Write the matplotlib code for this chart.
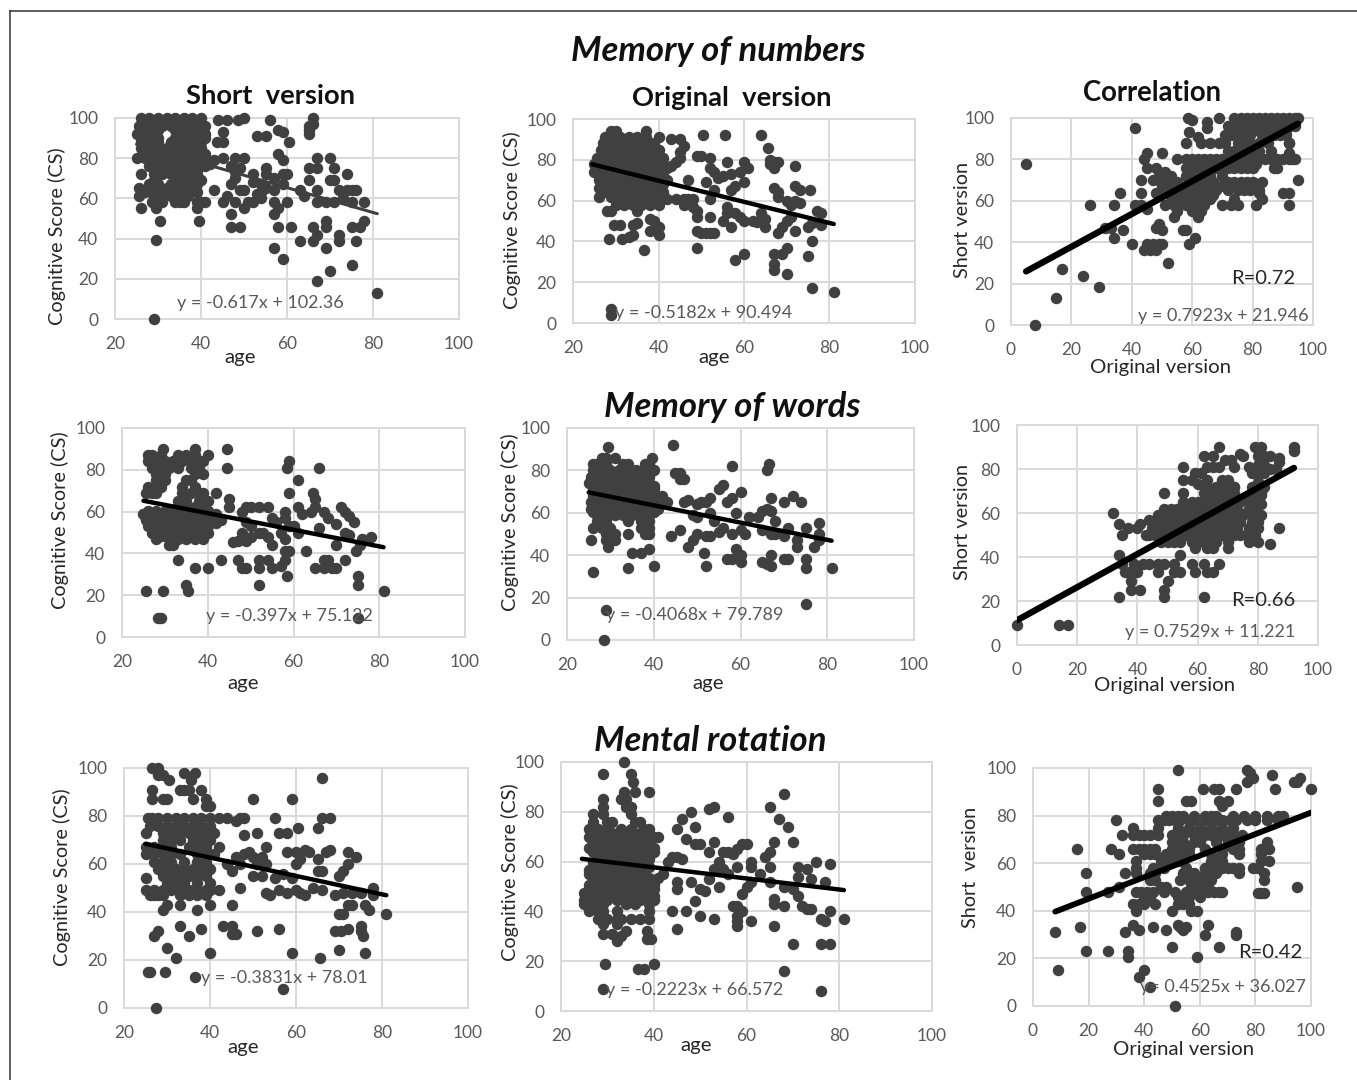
# Cognitive scores: short vs original version, scatter panels with trend lines
import numpy as np
import matplotlib
matplotlib.use('Agg')
import matplotlib.pyplot as plt
from matplotlib.lines import Line2D

plt.rcParams['font.family'] = ['Lato', 'DejaVu Sans']

W = 1357
H = 1080
dot_color = '#404040'
grid_color = '#d9d9d9'
tick_color = '#595959'
label_color = '#262626'

# data: rows are (score, [x values]), extras are single (x, score) points
rows_1 = [(100, [26, 28, 30, 32, 34, 36, 38, 40]), (98, [27, 29, 31, 33, 35, 37, 39]),
          (96, [25.5, 27, 29, 31, 33, 35, 37, 39, 41]), (94, [26, 28, 30, 34, 36, 38, 40]),
          (92, [25, 27, 29, 35, 37, 39, 41]), (90, [26, 28, 30, 34, 36, 38, 40]),
          (88, [26, 28, 30, 33, 35, 37, 39, 40]), (85, [26, 28, 30, 32, 34, 36, 38, 40]),
          (82, [27, 29, 31, 33, 35, 37, 39, 41]), (80, [25, 27, 29, 31, 33, 35, 37, 39, 41]),
          (78, [29, 31, 33, 35, 37, 39]), (76, [28, 30, 32, 34, 36, 39, 41]), (74, [29, 31, 35, 37, 39]),
          (72, [26, 29, 31, 33, 35, 37, 39]), (69, [29, 34, 36, 38, 40]), (67, [28, 30, 33, 35, 37, 39]),
          (65, [25.5, 28, 30, 32, 34, 36, 38]), (63, [27, 31, 33, 35, 37, 39]),
          (61, [25.5, 29, 31, 33, 35, 37]), (58, [28.5, 31, 34, 35, 36, 39, 40, 41])]
extra_1 = [(26, 55), (29.5, 55), (30.5, 49), (29.5, 39.5), (39.5, 49), (39, 55), (29, 0), (41, 90), (44, 99),
           (46, 99), (48.5, 99), (50, 100), (56, 99), (58, 94), (59, 93), (45, 93), (45, 88), (43.7, 88), (53, 91),
           (55, 91), (60.5, 88), (65, 96), (66, 97), (66, 100), (65, 92), (65, 94), (42, 77), (43, 79), (45, 80),
           (48, 80), (50, 80), (47, 76), (48, 73), (48, 70), (49, 75), (52, 72), (52, 68), (55, 75), (55, 72),
           (57, 70), (59, 72), (60, 72), (58, 82), (59, 79), (65, 75), (67, 80), (67, 75), (70, 80), (71, 75),
           (74, 72), (65, 69), (70, 69), (71, 69), (43, 64), (45, 58), (46, 61), (47, 67), (49, 64), (50, 64),
           (48, 58), (50, 55), (52, 58), (51, 58), (54, 67), (54, 63), (54, 60), (55, 65), (53, 62), (57, 64),
           (57, 58), (59, 67), (60, 58), (63, 64), (64, 61), (67, 64), (67, 58), (69, 58), (71, 58), (72, 64),
           (73, 60), (74, 64), (75, 64), (76, 64), (75, 58), (78, 58), (47, 52), (47, 46), (49, 46), (58, 55),
           (57, 52), (58, 46), (61, 46), (66, 46), (67, 42), (69, 49), (69, 46), (72, 42), (72, 39), (75, 46),
           (77, 46), (78, 49), (76, 39), (57, 35.5), (59, 30), (63, 39), (66, 39), (69, 35.5), (70, 24), (67, 19),
           (75, 27), (81, 13)]

rows_2 = [(94, [29, 30, 37]), (91, [27.5, 29, 31, 33, 35, 37, 40]), (88, [27, 29, 31, 33, 35, 37, 39]),
          (85, [26.5, 28, 30, 32, 34, 36, 38, 40]), (83, [27, 29, 31, 33, 35, 37, 39]),
          (81, [25.5, 27, 29, 31, 33, 35, 37, 39, 41]), (78, [25, 27, 29, 31, 33, 35, 37, 39, 41]),
          (76, [26, 28, 30, 32, 34, 36, 38, 40, 42]), (74, [25, 27, 29, 31, 33, 35, 37, 39, 41]),
          (72, [26, 28, 30, 32, 34, 36, 38, 40]), (70, [26, 28, 30, 32, 34, 36, 38, 40]),
          (68, [27, 29, 31, 33, 35, 37, 39, 41]), (66, [26, 28, 30, 32, 34, 36, 38, 40]),
          (64, [27, 29, 33, 35, 39, 41]), (62, [26, 29, 31, 33, 35, 37, 39, 41]),
          (60, [30, 32, 34, 38, 40]), (58, [30, 32, 34, 36, 38, 40]), (55, [28, 29, 35])]
extra_2 = [(29.5, 48), (31, 48), (28.5, 41), (31.5, 41), (33, 42), (34, 43), (34, 48), (35, 49), (38, 51), (39, 50),
           (40, 47), (38, 45), (40, 43), (36.5, 36), (29, 7), (29, 4), (43, 90), (45, 90), (46, 87), (45, 84),
           (45, 81), (44, 79), (43, 77), (42, 70), (42, 61), (44, 61), (46, 61), (47, 61), (48, 61), (46, 58),
           (48, 57), (49, 55), (49, 52), (47, 70), (49, 82), (50, 82), (51, 69), (50.5, 92), (55.5, 92), (52, 81),
           (52, 76), (53, 74), (54, 71), (55, 72), (57, 73), (56, 79), (59, 74), (60, 79), (61, 76), (60, 69),
           (58, 67), (57, 65), (53, 65), (52, 61), (56, 57), (52, 52), (55, 50), (56, 54), (58, 54), (57, 47),
           (59, 52), (60, 50), (62, 50), (63, 49.5), (65, 51), (65, 47), (64, 54), (49, 45), (50, 44), (51, 44),
           (52, 44), (53, 44), (49, 37), (58, 31), (60, 34), (64, 92), (65.5, 86), (66, 80), (67, 79), (66, 78),
           (67, 76), (68, 79), (72, 77), (67, 66), (68, 64), (68, 62), (70, 60), (71, 58), (72, 67), (73, 65),
           (72, 60), (73, 59), (75.5, 65), (71, 52), (70, 50), (69, 47), (68, 44), (72, 45), (75, 47), (76, 40),
           (75, 33), (67, 34), (69, 34), (70, 37), (67, 29), (67, 26), (70, 24), (76, 17), (81, 15), (77, 55),
           (78, 54), (78, 48), (76, 49)]

rows_3 = [(100, [74, 76, 78, 80, 82, 84, 86, 88, 90, 92, 94, 95]), (98, [75, 77, 79, 85, 87, 89, 91, 93]),
          (96, [72, 74, 76, 78, 82, 84, 86, 88, 90, 92, 94]), (94, [73, 75, 77, 81, 83, 87, 89, 91]),
          (92, [71, 73, 76, 79, 83, 85, 87, 89, 91]), (88, [69, 71, 75, 77, 79, 82, 85, 92]),
          (84, [72, 74, 76, 78, 80, 82, 86]),
          (80, [60, 62, 64, 66, 68, 70, 72, 74, 76, 78, 80, 82, 84, 86, 88, 90, 92, 94]),
          (78, [59, 61, 63, 65, 67, 71, 73, 75, 77, 79, 81]),
          (76, [58, 60, 62, 64, 68, 70, 72, 74, 76, 78, 80, 88]), (72, [58, 60, 62, 64, 66, 70]),
          (69, [59, 61, 63, 65, 67, 72, 74, 76, 78, 80, 83]), (67, [58, 60, 62, 64, 66, 68, 70]),
          (65, [58, 60, 62, 64, 66, 68, 72, 75, 77, 79, 82]), (63, [59, 61, 63, 65, 67]),
          (61, [58, 60, 62, 64, 66, 74]), (58, [58, 60, 62, 64, 70, 73, 75, 81])]
extra_3 = [(5, 78), (8, 0), (15, 13), (17, 27), (24, 23.5), (29, 18.5), (26, 58), (34, 58), (36, 64), (41, 95), (31, 47),
           (33, 47), (34, 42), (37, 46), (40, 39), (41, 58), (43, 64), (43, 70), (44, 80), (45, 83), (45, 76), (43, 58),
           (45, 56), (44, 36), (45, 39), (46, 36), (47, 39), (48, 36), (49, 39), (50, 39), (52, 30), (48, 47), (49, 49),
           (50, 46), (48, 64), (50, 64), (47, 70), (48, 76), (50, 72), (49, 70), (50, 83), (52, 70), (53, 67), (51, 58),
           (54, 52), (55, 55), (53, 62), (55, 58), (55, 80), (57, 46), (58, 46), (59, 39), (61, 42), (58, 80), (59, 76),
           (58, 88), (59, 93), (58.5, 100), (60, 99), (62, 91), (63, 88), (66, 88), (65, 95), (65, 98), (69, 100),
           (82, 64), (83, 61), (90, 64), (92, 64), (92, 58), (95, 70), (87, 76), (92, 83), (92, 88), (93, 80), (60, 55),
           (62, 52), (63, 55), (49, 74), (51, 74), (53, 72), (55, 69), (56, 65), (50, 67), (52, 64), (55, 62), (54, 58)]

rows_4 = [(90, [29.5, 37]), (87, [26, 27, 29, 33, 35, 37, 40]), (84, [26, 28, 30, 32, 34, 36, 38, 39]),
          (81, [27, 29, 31, 33, 36, 38]), (78, [28, 30, 37, 39]), (75, [28, 30, 35, 36]), (72, [26, 28, 29, 34, 37]),
          (69, [25.5, 27, 28, 34, 36, 38, 39, 42]), (65, [33, 35, 38, 40]), (62, [33, 35, 37, 39]),
          (60.5, [26, 28, 30, 32, 34, 36, 38, 40]), (59, [25, 27, 29, 31, 33, 35, 37, 39, 41, 42]),
          (57.5, [26, 28, 30, 32, 34, 36, 38, 40]), (56, [25.5, 27, 29, 31, 33, 35, 37, 39, 41, 43]),
          (54.5, [27, 29, 31, 33, 35, 37, 39, 42]), (53, [26, 28, 30, 32, 34, 36, 38, 40]),
          (51.5, [29, 31, 33, 35, 37, 39]), (50, [27, 30, 32, 34, 36, 38, 40]), (48.5, [29, 31, 33, 35, 37, 39]),
          (47, [28, 31, 33, 35, 37, 39]), (44, [31, 32])]
extra_4 = [(44.5, 90), (44.5, 81), (45, 66), (45, 62), (46, 45.5), (47, 46), (48, 50), (49, 46), (50, 48), (48, 60),
           (49, 62), (50, 62), (52, 62), (54, 62), (49, 55), (50, 53), (52, 50), (53, 50), (54, 48), (55, 44), (55, 57),
           (56, 55), (57, 50), (58, 47), (58, 57), (58, 60), (59, 84), (58.5, 81), (59, 69), (61, 75), (61, 62), (62, 59),
           (64, 60), (64.5, 69), (65, 66), (65, 62), (66, 81), (66, 52), (67, 60), (68, 57), (70, 54), (71, 62), (72, 60),
           (73, 58), (74, 55), (72, 50), (73, 49), (61, 50), (60, 53), (59, 53), (76, 47), (78, 48), (75.5, 44), (74.5, 41),
           (70, 44), (58, 41), (59, 41), (63, 41), (58, 37), (57, 34), (55, 33), (54, 37), (52, 37), (52, 33), (47, 37),
           (48, 33), (49, 33), (43, 37), (33, 37), (37, 33), (40, 33), (35, 25), (35.5, 22), (25.5, 22), (29.5, 22),
           (28.5, 9), (29, 9), (75, 9), (52, 25), (58.5, 29), (75, 29), (75, 25), (81, 22), (65, 33), (67, 33), (68, 37),
           (69, 33), (70, 33), (72, 37), (67, 37)]

rows_5 = [(91, [29.5]), (86, [28, 29, 31, 39.5]), (83, [26, 27, 28, 29, 33, 34, 38, 39]),
          (80, [26, 28, 30, 32, 34, 36, 38, 40]), (78.5, [27, 29, 31, 33, 35, 37, 39]),
          (77, [25.5, 27, 29, 31, 33, 35, 37, 39]), (75.5, [26, 28, 30, 32, 34, 36, 38]),
          (74, [25, 27, 29, 31, 33, 35, 37, 39]), (72.5, [26, 28, 30, 32, 34, 36, 38, 40]),
          (71, [26, 28, 30, 32, 34, 36, 38, 40]), (69.5, [27, 29, 31, 33, 35, 37, 39]),
          (68, [26, 28, 30, 32, 34, 36, 38, 40, 42]), (66.5, [27, 29, 31, 33, 35, 37, 39]),
          (65, [25.5, 27, 29, 31, 33, 35, 37, 39, 41, 43]), (63.5, [26, 28, 30, 32, 34, 36, 38, 40]),
          (62, [25.5, 27, 29, 31, 33, 35, 37, 39, 41]), (60.5, [26, 28, 30, 34, 38, 40]),
          (59, [27, 29, 31, 33, 35, 37, 39]), (56, [27, 29, 34, 37, 39]),
          (53, [26, 28, 30, 37, 38, 39]), (50, [29, 31, 34, 38, 39]), (47, [25.5, 29, 31]), (44, [29.5])]
extra_5 = [(35, 41), (37, 41), (39, 43), (40, 35), (34, 34), (26, 32), (29, 14), (28.5, 0), (44.5, 92), (45, 79), (46, 79),
           (46, 76), (47, 76), (44, 49), (46, 52), (48, 44), (49, 47), (50, 50), (52, 49), (53, 49), (55, 51), (56, 53),
           (54, 56), (53, 60), (47, 65), (48, 66), (50, 64), (52, 65), (53, 67), (55, 71), (56, 73), (57, 65), (58, 67),
           (60, 70), (58, 82), (59, 60), (49, 59), (50, 58), (51, 65), (58, 50), (60, 52), (61, 50), (62, 58), (64, 58),
           (65, 61), (66, 62), (67, 61), (66, 80), (66.5, 83), (67, 67), (70, 65), (72, 68), (74, 65), (65, 52), (67, 50),
           (68, 56), (68, 50), (70, 49), (71, 53), (73, 47), (73, 44), (75, 53), (77, 44), (78, 47), (78, 50), (78, 55),
           (51.5, 41), (52, 35), (57, 38), (58, 38), (59, 43), (60, 40), (60, 37), (65, 37), (66, 36), (67, 35), (67, 40),
           (70, 38), (71, 38), (75, 38), (75, 34), (75, 17), (81, 34)]

rows_6 = [(72, [63, 66, 68, 70, 72, 78, 80]), (69, [49, 55, 62, 64, 66, 68, 70, 72, 78, 81]),
          (65, [55, 58, 60, 62, 64, 67, 69, 71, 74, 77, 79]),
          (62, [49, 51, 53, 56, 58, 60, 62, 64, 66, 68, 70, 72, 77, 79]),
          (59, [47, 49, 51, 53, 55, 57, 59, 61, 63, 65, 67, 69, 71, 73, 75, 78, 81]),
          (56, [46, 48, 50, 52, 54, 56, 58, 60, 62, 64, 66, 68, 70, 72, 74, 78, 80]),
          (53, [45, 47, 49, 51, 53, 55, 57, 59, 61, 63, 65, 67, 69, 71, 73, 77, 80, 87]),
          (50, [44, 46, 48, 50, 52, 54, 56, 58, 60, 62, 64, 66, 68, 70, 72, 74, 76, 79]),
          (47, [48, 50, 52, 54, 58, 60, 62, 64, 66, 70, 77, 80]), (44, [59, 63, 65, 70])]
extra_6 = [(0, 9), (14, 9), (17, 9), (32, 60), (34, 55), (35, 50), (37, 53), (40, 53), (41, 55), (43, 50), (44, 57), (34, 41),
           (35, 37), (36, 33), (37, 33), (38, 29), (38, 25), (41, 25), (34, 22), (39, 37), (40, 33), (42, 37), (44, 37),
           (47, 33), (47, 37), (49, 25), (49, 22), (50, 29), (49, 37), (52, 33), (52, 37), (54, 33), (54, 41), (58, 37),
           (59, 33), (62, 37), (63, 33), (65, 33), (67, 37), (62, 22), (84, 46), (74, 60), (55, 81), (55, 75), (58, 75),
           (59, 78), (61, 78), (60, 73), (63, 81), (62, 86), (65, 86), (67, 90), (65, 81), (67, 81), (63, 75), (67, 72),
           (68, 75), (70, 75), (66, 69), (72, 72), (69, 84), (71, 84), (72, 81), (74, 87), (75, 86), (77, 81), (78, 78),
           (79, 90), (81, 90), (80, 86), (82, 86), (84, 86), (80, 82), (82, 82), (84, 80), (86, 80), (87, 85), (87, 83),
           (80, 78), (82, 78), (80, 74), (82, 72), (79, 70), (81, 68), (77, 67), (79, 65), (81, 64), (92, 90), (92, 88)]

rows_7 = [(100, [26.5, 28]), (97, [28, 29]), (98, [34, 36.5]), (95, [30.5, 35.5]), (91, [26.5, 33, 34, 35, 38]),
          (87, [26.5, 29, 30, 36, 39]), (84, [39, 40]), (79, [25.5, 26.5, 28, 30, 32, 34, 36, 38, 40]),
          (76, [26, 28, 30, 32, 34, 36, 38, 40]), (73, [25, 29, 31, 33, 35, 37, 39, 41]), (70, [29, 31, 33, 36, 38, 40]),
          (67, [25, 27, 29, 31, 35, 37, 39, 42]), (64, [25, 27, 29, 31, 33, 37, 39, 41]), (61, [27, 29, 31, 34, 37, 39]),
          (58, [28, 30, 32, 34, 36, 38, 40]), (55, [29, 31, 33, 35, 37, 39]), (54, [25]), (52, [30, 32, 34, 37, 40]),
          (49, [25, 27, 29, 31, 33, 35, 37, 39, 40]), (47, [26, 27, 28, 29, 33, 35, 37, 39])]
extra_7 = [(30, 43), (29, 41), (33, 43), (37, 41), (40, 43), (42, 49), (45, 43), (42, 79), (44, 79), (46, 78), (47, 79),
           (48, 79), (48, 72), (51, 73), (55, 79), (56, 73), (58, 73), (50, 87), (59, 87), (60.5, 75), (65, 75), (66, 79),
           (68, 79), (66, 96), (58, 65), (60, 65), (62, 66), (63, 65), (61, 62), (60, 60), (65, 62), (67, 65), (68, 66),
           (44, 60), (45, 57), (46, 63), (47, 60), (48, 64), (49, 65), (50, 63), (52, 63), (53, 67), (51, 60), (53, 60),
           (50, 55), (52, 55), (54, 47), (55, 54), (57, 56), (59, 54), (65, 57), (66, 57), (47, 50), (53, 48), (56, 49),
           (58, 48), (60, 49), (61, 48), (62, 47), (64, 50), (66, 49), (69, 47), (70, 55), (71, 57), (72, 60), (72, 65),
           (74, 63), (71, 48), (73, 48), (75, 48), (78, 50), (78, 47), (72, 43), (73, 43), (76, 43), (77, 41), (70, 39),
           (71, 39), (81, 39), (69, 32), (70.5, 32), (72, 33), (75, 34), (75, 32), (75.5, 30), (56, 33), (51, 32), (43, 34),
           (45, 34), (45, 31), (46, 31), (38, 33), (33, 34), (35, 30), (27, 30), (28, 32), (30, 25), (32, 21), (40, 23),
           (59, 23), (65.5, 21), (70, 24), (76, 23), (25.5, 15), (26, 15), (29.5, 15), (36.5, 13), (57, 8), (27.5, 0)]

rows_8 = [(100, [33.5]), (95, [29, 35]), (92, [35.5]), (88, [33.5, 36, 39]), (85, [29, 33, 34]), (82, [29, 34, 35]),
          (79, [27, 29, 35]), (76, [27, 30, 31, 36, 37]), (73, [26, 28, 30, 33, 35, 38, 39]),
          (71.5, [27, 29, 31, 33, 35, 37, 39]), (70, [26, 28, 30, 32, 34, 36, 38, 40, 41]),
          (68.5, [27, 29, 31, 33, 35, 37, 39]), (67, [27, 29, 31, 33, 35, 37, 39]),
          (65.5, [26, 28, 30, 32, 34, 36, 38, 40]), (64, [27, 29, 31, 33, 36, 38, 40]),
          (62.5, [28, 30, 32, 34, 37, 39]), (61, [28, 30, 32, 34, 36, 39]), (59.5, [27, 29, 31, 33, 35, 37]),
          (58, [27, 29, 31, 33, 35, 37, 39]), (56.5, [26, 28, 30, 32, 34, 36, 38]),
          (55, [26, 28, 30, 32, 34, 36, 38]), (53.5, [27, 29, 31, 33, 35, 37, 39, 41]),
          (52, [28, 30, 32, 34, 37, 39]), (50.5, [26, 29, 31, 33, 35, 38, 40]), (49, [26, 28, 30, 33, 35, 37, 39, 40]),
          (47.5, [25, 27, 29, 32, 34, 36, 38]), (46, [26, 28, 31, 33, 36, 38, 40]),
          (44.5, [25, 27, 30, 32, 35, 37, 40]), (43, [25, 27, 29, 34, 36, 39]), (40, [26, 28, 29, 32, 39]),
          (37, [28, 29, 30, 32, 33, 35, 37, 39]), (35, [29, 32])]
extra_8 = [(29, 31), (31, 31), (32, 28), (33, 30), (34, 32), (38.5, 32), (38.5, 29), (39.5, 29), (29.5, 19), (36.5, 17),
           (38, 17), (40, 19), (29, 9), (46, 77), (45, 73), (47, 69), (49, 74), (48, 80), (52, 81), (53, 82), (56, 78),
           (44, 62), (45, 62), (46, 61), (43, 60), (42, 55), (45, 52), (45, 49), (48, 52), (50, 49), (51, 48), (49, 44),
           (47, 40), (44, 40), (45, 33), (50, 38), (49, 67), (50, 67), (53, 68), (52, 64), (54, 60), (53, 57), (55, 57),
           (56, 55), (52, 53), (54, 50), (55, 64), (56, 64), (57, 63), (58, 65), (59, 67), (60, 67), (58, 58), (61, 60),
           (61, 58), (64, 62), (63, 55), (65, 58), (65, 64), (66, 68), (65, 82), (67, 77), (68, 87), (69, 74), (70, 68),
           (59, 47), (60, 50), (61, 52), (65, 52), (66, 45), (66, 43), (68, 42), (68, 50), (70, 49), (71, 46), (71, 54),
           (71, 58), (73, 57), (74, 53), (75, 60), (77, 52), (78, 59), (72, 42), (73, 41), (74, 41), (76, 37), (77, 36),
           (78, 40), (81, 37), (57, 42), (58, 42), (58, 38), (59, 40), (58, 36), (58, 34), (61, 36), (53, 37), (66, 34),
           (70, 27), (76, 27), (78, 27), (68, 16), (76, 8)]

rows_9 = [(80, [48, 50, 52, 54, 58, 62, 64, 66, 72, 76, 80, 84, 88, 90]),
          (78, [30, 45, 47, 49, 51, 53, 56, 58, 62, 64, 66, 68, 71, 73, 77, 80, 84, 88]),
          (75, [36, 45, 52, 56, 60, 64, 68, 72]),
          (72, [32, 36, 38, 40, 42, 45, 50, 52, 54, 58, 60, 62, 64, 66, 68, 70, 72, 75]),
          (69, [50, 54, 58, 60, 66, 70, 74, 84]), (66, [16, 28, 36, 38, 40, 42, 44, 50, 52, 54, 56, 62, 68, 72, 74, 82, 85]),
          (64, [31, 40, 42, 44, 48, 50, 52, 54, 56, 64, 68, 74, 82]), (61, [37, 46, 49, 52, 54, 64, 66, 68, 82, 85]),
          (58, [37, 43, 47, 55, 62, 64, 66, 68, 70, 72, 74, 79, 81]), (56, [19, 33, 37, 42, 44, 54, 56, 58, 62, 66, 74, 83]),
          (53, [42, 44, 53, 56, 58, 60, 64, 83]), (50, [31, 46, 48, 57, 59, 61, 63, 95]),
          (48, [19, 27, 37, 39, 41, 43, 47, 51, 55, 57, 59, 61, 63, 65, 67, 68]), (46, [40, 42, 52, 54, 56, 60]),
          (43, [36, 38, 40, 44, 52, 54, 56]), (40, [37, 50, 57, 59])]
extra_9 = [(52, 99), (77, 99), (78, 98), (79, 96), (77, 94), (86, 97), (95, 94), (96, 96), (94, 94), (100, 91), (87, 91), (73, 91),
           (61, 91), (65, 91), (67, 91), (45, 91), (45, 86), (55, 86), (57, 86), (67, 86), (70, 86), (68, 84), (82, 47.5), (81, 47.5),
           (83, 47.5), (8, 31), (17, 33), (33, 31), (36, 34), (38, 32), (43, 33), (48, 32), (52, 34), (53, 33), (55, 33), (54, 32),
           (63, 34), (62, 30), (73, 31), (73, 30), (19, 23), (27, 23), (34, 23), (34, 20.5), (50, 25), (59, 20.5), (67, 25), (9, 15),
           (38, 12), (40, 15), (42, 8), (51, 0)]

slopes = [-0.617, -0.5182, 0.7923, -0.397, -0.4068, 0.7529, -0.3831, -0.2223, 0.4525]
intercepts = [102.36, 90.494, 21.946, 75.122, 79.789, 11.221, 78.01, 66.572, 36.027]
fit_start = [25, 24.5, 5, 25, 25, 0, 25, 24.5, 8]
fit_end = [81, 81, 95, 81, 81, 92, 81, 81, 100]
r_values = [None, None, 'R=0.72', None, None, 'R=0.66', None, None, 'R=0.42']
eq_texts = ['y = -0.617x + 102.36', 'y = -0.5182x + 90.494', 'y = 0.7923x + 21.946',
            'y = -0.397x + 75.122', 'y = -0.4068x + 79.789', 'y = 0.7529x + 11.221',
            'y = -0.3831x + 78.01', 'y = -0.2223x + 66.572', 'y= 0.4525x + 36.027']
x_labels = ['age', 'age', 'Original version'] * 3
y_labels = ['Cognitive Score (CS)', 'Cognitive Score (CS)', 'Short version'] * 2 + \
           ['Cognitive Score (CS)', 'Cognitive Score (CS)', 'Short  version']

# pixel layout of each panel: left, right, top, bottom
boxes = [(115, 459, 118, 319), (573, 915, 119, 323), (1011, 1313, 118, 325),
         (122, 465, 428, 637), (567, 914, 428, 640), (1017, 1318, 425, 645),
         (124, 468, 768, 1008), (561, 932, 762, 1011), (1033, 1311, 768, 1006)]
xlabel_pos = [(240, 358), (714, 358), (1161, 367), (243, 683), (708, 683), (1165, 686), (243, 1048), (696, 1045), (1184, 1049)]
ylabel_pos = [(57, 236), (512, 220), (962, 220), (60, 520), (510, 522), (962, 522), (62, 877), (510, 872), (970, 867)]
eq_pos = [(260, 303), (704, 313), (1223, 316), (289, 616), (695, 615), (1210, 632), (284, 978), (695, 990), (1223, 987)]
r_pos = [None, None, (1263, 278), None, None, (1263, 600), None, None, (1270, 953)]
line_w = [2.2, 3.2, 4.6, 3.2, 3.2, 4.6, 3.2, 3.2, 4.2]
line_c = ['#404040', 'black', 'black', 'black', 'black', 'black', 'black', 'black', 'black']

all_rows = [rows_1, rows_2, rows_3, rows_4, rows_5, rows_6, rows_7, rows_8, rows_9]
all_extra = [extra_1, extra_2, extra_3, extra_4, extra_5, extra_6, extra_7, extra_8, extra_9]


def put_text(px, py, s, **kw):
    fig.text(px / W, 1 - py / H, s, ha='center', va='center', **kw)


def get_points(rows, extra):
    xs = [p[0] for p in extra]
    ys = [p[1] for p in extra]
    for score, ages in rows:
        xs = xs + ages
        ys = ys + [score] * len(ages)
    return xs, ys


fig = plt.figure(figsize=(W / 100, H / 100), dpi=100)

# only the top and left edges of the frame are in the picture
fig.add_artist(Line2D([9.5 / W, 1], [1 - 10.5 / H, 1 - 10.5 / H], color='#333333', lw=1.1))
fig.add_artist(Line2D([9.5 / W, 9.5 / W], [1 - 10.5 / H, 0], color='#333333', lw=1.1))

for i in range(9):
    left, right, top, bottom = boxes[i]
    ax = fig.add_axes([left / W, 1 - bottom / H, (right - left) / W, (bottom - top) / H])
    if i % 3 == 2:
        ax.set_xlim(0, 100)
    else:
        ax.set_xlim(20, 100)
    ax.set_ylim(0, 100)
    ax.set_xticks(np.arange(ax.get_xlim()[0], 101, 20))
    ax.set_yticks(np.arange(0, 101, 20))
    ax.grid(color=grid_color, lw=1.4)
    ax.set_axisbelow(True)
    for s in ax.spines.values():
        s.set_color(grid_color)
        s.set_linewidth(1.4)
    ax.tick_params(length=0, labelsize=12.5, labelcolor=tick_color, pad=12)

    xs, ys = get_points(all_rows[i], all_extra[i])
    ax.scatter(xs, ys, s=68, c=dot_color, linewidths=0, clip_on=False, zorder=3)
    fx = np.array([fit_start[i], fit_end[i]])
    ax.plot(fx, slopes[i] * fx + intercepts[i], color=line_c[i], lw=line_w[i], solid_capstyle='round', zorder=4)

    put_text(*xlabel_pos[i], x_labels[i], fontsize=14.7, color=label_color)
    put_text(*ylabel_pos[i], y_labels[i], fontsize=14.3, color=label_color, rotation=90)
    put_text(*eq_pos[i], eq_texts[i], fontsize=13, color=tick_color, zorder=5)
    if r_values[i]:
        put_text(*r_pos[i], r_values[i], fontsize=14.5, color=label_color, zorder=5)

# column and section headings
put_text(270, 96, 'Short  version', fontsize=19.7, fontweight='bold', color='#111111')
put_text(732, 98, 'Original  version', fontsize=19.7, fontweight='bold', color='#111111')
put_text(1152, 93, 'Correlation', fontsize=19.8, fontweight='bold', color='#111111')
put_text(718, 51, 'Memory of numbers', fontsize=25, fontweight='bold', style='italic', color='#111111')
put_text(732, 407, 'Memory of words', fontsize=25, fontweight='bold', style='italic', color='#111111')
put_text(710, 741, 'Mental rotation', fontsize=25, fontweight='bold', style='italic', color='#111111')

fig.savefig('out.png', dpi=100)
